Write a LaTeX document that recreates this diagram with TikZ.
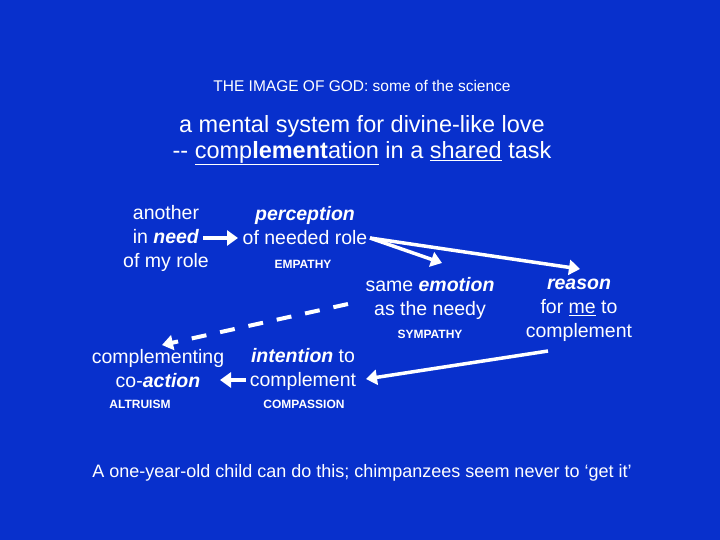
\documentclass[tikz,border=0pt]{standalone}
\usepackage{fontspec}
\setmainfont{Liberation Sans}
\usetikzlibrary{arrows.meta}
\definecolor{bg}{RGB}{8,48,204}
\begin{document}
\begin{tikzpicture}[x=1pt,y=-1pt,
  every node/.style={text=white,inner sep=0pt},
  big/.style={font=\fontsize{23.5}{26}\selectfont},
  mid/.style={font=\fontsize{19.5}{24}\selectfont,align=center},
  small/.style={font=\fontsize{12}{14}\selectfont\bfseries},
  arr/.style={white,line width=3.5pt,-{Triangle[length=11pt,width=15pt]}},
  darr/.style={white,line width=4pt,dash pattern=on 15pt off 14pt,-{Triangle[length=11pt,width=15pt]}}]
\fill[bg] (0,0) rectangle (720,540);
\node (title) at (362,86) {\fontsize{15.5}{18}\selectfont THE IMAGE OF GOD: some of the science};
\node[big] (l1) at (362,126) {a mental system for divine-like love};
\node[big] (l2) at (362,153) {{-}{-} \underline{comp\textbf{lement}ation} in a \underline{shared} task};
\node[mid] (another) at (166,238) {another\\ in \textbf{\textit{need}}\\ of my role};
\node[mid] (perc) at (305,226) {\textbf{\textit{perception}}\\ of needed role};
\node[small] (emp) at (303,264) {EMPATHY};
\node[mid] (emo) at (430,298) {same \textbf{\textit{emotion}}\\ as the needy};
\node[small] (sym) at (430,334) {SYMPATHY};
\node[mid] (reason) at (579,310) {\textbf{\textit{reason}}\\ for \underline{me} to\\ complement};
\node[mid] (coact) at (158,369) {complementing\\ co-\textbf{\textit{action}}};
\node[small] (alt) at (140,404) {ALTRUISM};
\node[mid] (intent) at (303,369) {\textbf{\textit{intention}} to\\ complement};
\node[small] (comp) at (304,404) {COMPASSION};
\node (bottom) at (362,473) {\fontsize{18}{21}\selectfont A one-year-old child can do this; chimpanzees seem never to ‘get it’};
\coordinate (a1s) at (203,238); \coordinate (a1e) at (238,238);
\coordinate (p0) at (370,238);
\coordinate (e0) at (442,263);
\coordinate (r0) at (580,269);
\coordinate (d0) at (348,304); \coordinate (d1) at (162,345);
\coordinate (c0) at (548,351); \coordinate (c1) at (366,379);
\coordinate (i0) at (246,380); \coordinate (i1) at (220,380);
\draw[arr] (a1s) -- (a1e);
\draw[arr] (p0) -- (e0);
\draw[arr] (p0) -- (r0);
\draw[darr] (d0) -- (d1);
\draw[arr] (c0) -- (c1);
\draw[arr] (i0) -- (i1);
\end{tikzpicture}
\end{document}
